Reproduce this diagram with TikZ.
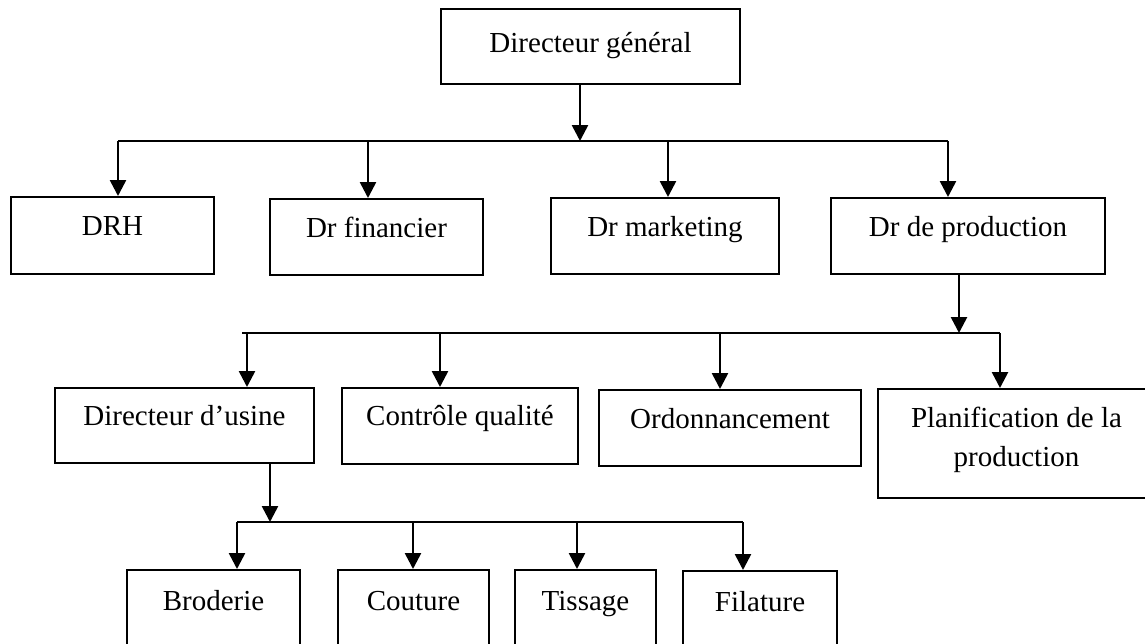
\documentclass[tikz,border=0pt]{standalone}
\usepackage{fontspec}
\setmainfont{Liberation Serif}
\usetikzlibrary{arrows.meta}

\tikzset{
  frame/.style={draw, rectangle, line width=1pt, inner sep=0pt, anchor=north west,
    align=center, font=\fontsize{14.5}{19.5}\selectfont},
  unit/.style={frame, text height=19pt},
  link/.style={line width=1.3pt},
  arr/.style={link, -{Triangle[length=8pt,width=8pt]}},
}

\begin{document}
\begin{tikzpicture}[x=0.5pt, y=-0.5pt]
\useasboundingbox (0,0) rectangle (1145,643);
\clip (0,0) rectangle (1145,643);

% direction
\node[unit, minimum width=149.5pt, text height=21.5pt, text depth=16pt] (dg) at (440,8) {Directeur général};

% directeurs
\node[unit, minimum width=101.5pt, text depth=19.5pt] (drh) at (10,196) {DRH};
\node[unit, minimum width=106.5pt, text depth=19pt] (fin) at (269,198) {Dr financier};
\node[unit, minimum width=114pt, text depth=19pt] (mkt) at (550,197) {Dr marketing};
\node[unit, minimum width=137pt, text depth=19pt] (prod) at (830,197) {Dr de production};

% services de production
\node[unit, minimum width=129.5pt, text height=18.5pt, text depth=19pt] (usine) at (54,387) {Directeur d’usine};
\node[unit, minimum width=118pt, text height=18.5pt, text depth=19.5pt] (cq) at (341,387) {Contrôle qualité};
\node[unit, minimum width=131pt, text depth=19pt] (ord) at (598,389) {Ordonnancement};
\node[frame, minimum width=138.5pt, minimum height=54.5pt] (plan) at (877,388) {Planification de la\\production\\[-13pt]};

% ateliers
\node[unit, minimum width=86.5pt, text height=20pt, text depth=60pt] (bro) at (126,569) {Broderie};
\node[unit, minimum width=75.5pt, text height=20pt, text depth=60pt] (cou) at (337,569) {Couture};
\node[unit, minimum width=70.5pt, text height=20pt, text depth=60pt] (tis) at (514,569) {Tissage};
\node[unit, minimum width=77pt, text height=20pt, text depth=60pt] (fil) at (682,570) {Filature};

% niveau 1
\coordinate (b0) at (580,141);
\coordinate (b1) at (118,141);
\coordinate (b2) at (368,141);
\coordinate (b3) at (668,141);
\coordinate (b4) at (948,141);
\draw[arr] (dg.south -| b0) -- (b0);
\draw[link] (b1) -- (b4);
\draw[arr] (b1) -- (b1 |- drh.north);
\draw[arr] (b2) -- (b2 |- fin.north);
\draw[arr] (b3) -- (b3 |- mkt.north);
\draw[arr] (b4) -- (b4 |- prod.north);

% niveau 2
\coordinate (m0) at (959,333);
\coordinate (m1) at (247,333);
\coordinate (m2) at (440,333);
\coordinate (m3) at (720,333);
\coordinate (m4) at (1000,333);
\draw[arr] (prod.south -| m0) -- (m0);
\draw[link] ([xshift=-2.5pt]m1) -- (m4);
\draw[arr] (m1) -- (m1 |- usine.north);
\draw[arr] (m2) -- (m2 |- cq.north);
\draw[arr] (m3) -- (m3 |- ord.north);
\draw[arr] (m4) -- (m4 |- plan.north);

% niveau 3
\coordinate (l0) at (270,522);
\coordinate (l1) at (237,522);
\coordinate (l2) at (413,522);
\coordinate (l3) at (577,522);
\coordinate (l4) at (743,522);
\draw[arr] (usine.south -| l0) -- (l0);
\draw[link] (l1) -- (l4);
\draw[arr] (l1) -- (l1 |- bro.north);
\draw[arr] (l2) -- (l2 |- cou.north);
\draw[arr] (l3) -- (l3 |- tis.north);
\draw[arr] (l4) -- (l4 |- fil.north);

\end{tikzpicture}
\end{document}
